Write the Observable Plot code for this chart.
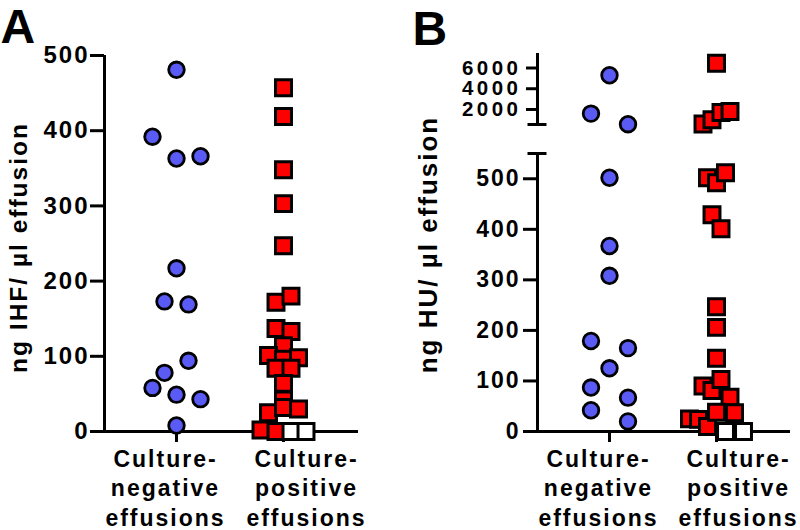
<!DOCTYPE html>
<html>
<head>
<meta charset="utf-8">
<script src="https://cdn.jsdelivr.net/npm/d3@7"></script>
<script src="https://cdn.jsdelivr.net/npm/@observablehq/plot@0.6"></script>
<style>
  html, body { margin: 0; padding: 0; background: #ffffff; }
  #chart { position: relative; width: 800px; height: 530px; overflow: hidden; background: #ffffff; }
  #chart svg { position: absolute; top: 0; }
  #chart svg text { letter-spacing: 2px; }
  #chart svg.panel-b text.ylab { letter-spacing: 2.7px; }
  #chart svg.panel-b-hi text { letter-spacing: 3.5px; }
</style>
</head>
<body>
<div id="chart"></div>
<script>
// ---------------- data ----------------
const ND = "nd"; // not detected (plotted at 0 as an open square)
const categories = ["Culture-\nnegative\neffusions", "Culture-\npositive\neffusions"];

// Panel A: ng IHF / µl effusion
const ihfLabel = "ng IHF/ µl effusion";
const ihfTicks = [0, 100, 200, 300, 400, 500];
const ihfNegative = [481, 392, 363, 366, 217, 173, 169, 78, 94, 58, 49, 43, 8];
const ihfPositive = [457, 419, 348, 303, 247, 172, 180, 137, 133, 114, 101, 96, 98, 84, 84, 64, 42, 25, 32, 30, 2, 0, ND, ND];

// Panel B: ng HU / µl effusion (broken axis)
const huLabel = "ng HU/ µl effusion";
const huTicksLow = [0, 100, 200, 300, 400, 500];
const huTicksHigh = [2000, 4000, 6000];
const huBreak = 550;
const huTop = 7400;
const huNegative = [5300, 1600, 580, 502, 367, 308, 179, 165, 125, 87, 67, 42, 20];
const huPositive = [6450, 600, 1000, 1700, 1800, 502, 492, 512, 429, 401, 247, 206, 145, 90, 81, 103, 68, 25, 24, 10, 38, ND, 37, ND];

// ---------------- layout helpers ----------------
const STEP = 107;                       // px between the two category centres
const xDomainA = [-72 / STEP, 182 / STEP];
const xDomainB = [-72 / STEP, 181 / STEP];
const font = "'Liberation Sans', Arial, Helvetica, sans-serif";
const BLUE = "#5a5af5", RED = "#ff0000";

// Prism-like scatter: group values into horizontal bins, spread each bin around the category centre
function scatter(values, group, binH, spacing, keep = () => true) {
  const pts = values.map((v, i) => ({value: v === ND ? 0 : v, nd: v === ND, i, group}))
                    .filter(p => keep(p.value));
  const sorted = pts.slice().sort((a, b) => b.value - a.value || a.i - b.i);
  const bins = [];
  for (const p of sorted) {
    const last = bins[bins.length - 1];
    if (last && last.top - p.value < binH) last.items.push(p);
    else bins.push({top: p.value, items: [p]});
  }
  for (const b of bins) {
    b.items.sort((a, c) => a.i - c.i);
    const k = b.items.length;
    b.items.forEach((p, j) => { p.x = group + ((j - (k - 1) / 2) * spacing) / STEP; });
  }
  return pts;
}

function dots(pts) {
  const neg = pts.filter(p => p.group === 0);
  const pos = pts.filter(p => p.group === 1);
  return [
    Plot.dot(neg, {x: "x", y: "value", r: 7.8, fill: BLUE, stroke: "black", strokeWidth: 2.8}),
    Plot.dot(pos, {x: "x", y: "value", symbol: "square", r: 9, fill: p => p.nd ? "white" : RED, stroke: "black", strokeWidth: 3})
  ];
}

// category axis: ticks on the category centres, labels pushed apart as in the original
function categoryAxis(shift) {
  return [
    Plot.axisX({ticks: [0, 1], tickFormat: () => "", tickSize: 11, strokeWidth: 3, label: null}),
    Plot.axisX({ticks: [0], tickFormat: i => categories[i], tickSize: 0, tickPadding: 15, dx: shift[0], fontSize: 23, lineHeight: 1.27, label: null}),
    Plot.axisX({ticks: [1], tickFormat: i => categories[i], tickSize: 0, tickPadding: 15, dx: shift[1], fontSize: 23, lineHeight: 1.27, label: null})
  ];
}

const svgStyle = {fontFamily: font, fontWeight: "bold", background: "transparent", color: "black", overflow: "visible"};
const fmt = d => String(d);

// ---------------- Panel A ----------------
const ptsA = [...scatter(ihfNegative, 0, 32, 24), ...scatter(ihfPositive, 1, 10, 15)];
const plotA = Plot.plot({
  width: 400, height: 530,
  marginTop: 55, marginBottom: 99, marginLeft: 104, marginRight: 42,
  style: svgStyle,
  x: {domain: xDomainA, axis: null},
  y: {domain: [0, 500], axis: null},
  marks: [
    Plot.ruleX([xDomainA[0]], {strokeWidth: 3}),
    Plot.ruleY([0], {strokeWidth: 3}),
    Plot.axisY({ticks: ihfTicks, tickFormat: fmt, tickSize: 14, tickPadding: 1, fontSize: 24, strokeWidth: 3, label: null}),
    ...categoryAxis([-11, 23]),
    ...dots(ptsA),
    Plot.text(["A"], {text: d => d, frameAnchor: "top-left", dx: -104, dy: -47, fontSize: 48, lineAnchor: "top", textAnchor: "start"}),
    Plot.text([ihfLabel], {text: d => d, frameAnchor: "left", rotate: -90, dx: -95, dy: 4, fontSize: 24.5, lineAnchor: "top", textAnchor: "middle"})
  ]
});
plotA.style.left = "0px";

// ---------------- Panel B (lower segment) ----------------
const ptsBLow = [...scatter(huNegative, 0, 25, 37, v => v <= huBreak), ...scatter(huPositive, 1, 40, 9, v => v <= huBreak)];
const breakHalf = 9.5 / STEP;
const plotBLow = Plot.plot({
  width: 400, height: 530,
  marginTop: 153, marginBottom: 99, marginLeft: 137, marginRight: 10,
  style: svgStyle,
  className: "panel-b",
  x: {domain: xDomainB, axis: null},
  y: {domain: [0, huBreak], axis: null},
  marks: [
    Plot.ruleX([xDomainB[0]], {strokeWidth: 3}),
    Plot.ruleY([0], {strokeWidth: 3}),
    Plot.ruleY([huBreak], {x1: xDomainB[0] - breakHalf, x2: xDomainB[0] + breakHalf, strokeWidth: 3}),
    Plot.axisY({ticks: huTicksLow, tickFormat: fmt, tickSize: 14, tickPadding: 3, fontSize: 23, strokeWidth: 3, label: null}),
    ...categoryAxis([-11, 22]),
    ...dots(ptsBLow),
    Plot.text(["B"], {text: d => d, frameAnchor: "top-left", dx: -125, dy: -143, fontSize: 48, lineAnchor: "top", textAnchor: "start"}),
    Plot.text([huLabel], {text: d => d, frameAnchor: "left", rotate: -90, dx: -119, dy: -48, fontSize: 26, lineAnchor: "top", textAnchor: "middle", className: "ylab"})
  ]
});
plotBLow.style.left = "400px";

// ---------------- Panel B (upper segment) ----------------
const ptsBHigh = [...scatter(huNegative, 0, 1300, 37, v => v > huBreak), ...scatter(huPositive, 1, 1300, 9, v => v > huBreak)];
const plotBHigh = Plot.plot({
  width: 400, height: 140,
  marginTop: 53, marginBottom: 16, marginLeft: 137, marginRight: 10,
  style: svgStyle,
  className: "panel-b-hi",
  x: {domain: xDomainB, axis: null},
  y: {domain: [huBreak, huTop], axis: null},
  marks: [
    Plot.ruleX([xDomainB[0]], {strokeWidth: 3}),
    Plot.ruleY([huBreak], {x1: xDomainB[0] - breakHalf, x2: xDomainB[0] + breakHalf, strokeWidth: 3}),
    Plot.axisY({ticks: huTicksHigh, tickFormat: fmt, tickSize: 11, tickPadding: 5, fontSize: 20.5, strokeWidth: 3, label: null}),
    ...dots(ptsBHigh)
  ]
});
plotBHigh.style.left = "400px";

const chart = document.getElementById("chart");
chart.append(plotA, plotBLow, plotBHigh);
</script>
</body>
</html>
